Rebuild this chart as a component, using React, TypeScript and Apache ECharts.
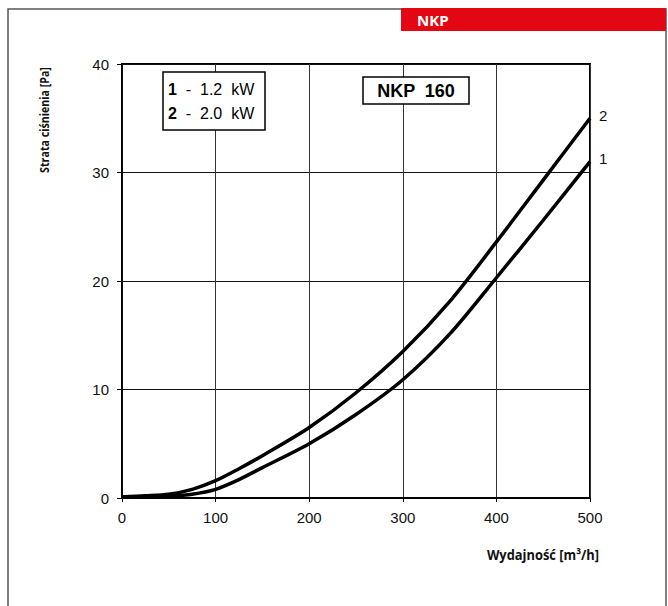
import React, { useEffect, useRef } from "react";
import * as echarts from "echarts";

const flowTicks = [0, 100, 200, 300, 400, 500];
const flow = [0, 25, 50, 75, 100, 125, 150, 200, 250, 300, 350, 400, 450, 500];
const loss1 = [0.1, 0.12, 0.18, 0.35, 0.8, 1.7, 2.8, 5.0, 7.7, 10.9, 15.1, 20.3, 25.6, 31.0];
const loss2 = [0.1, 0.2, 0.35, 0.8, 1.6, 2.7, 3.9, 6.5, 9.7, 13.5, 18.1, 23.6, 29.3, 35.0];
const seriesNames = ["1", "2"];
const legendLines = ["1.2  kW", "2.0  kW"];
const title = "NKP  160";
const header = "NKP";
const yName = "Strata ciśnienia [Pa]";
const xName = "Wydajność [m³/h]";

export default function App() {
  const ref = useRef<HTMLDivElement>(null);
  useEffect(() => {
    if (!ref.current) return;
    const chart = echarts.init(ref.current, undefined, { renderer: "svg" });
    const tickFont = "Liberation Sans, Arial, sans-serif";
    const mk = (name: string, ys: number[]) => ({
      type: "line",
      name,
      data: flow.map((x, i) => [x, ys[i]]),
      smooth: 0.3,
      showSymbol: false,
      symbol: "none",
      lineStyle: { color: "#000", width: 3.5 },
      endLabel: {
        show: true,
        formatter: () => name,
        color: "#111",
        fontSize: 15,
        fontFamily: tickFont,
        offset: [1, -3],
      },
      z: 5,
    });
    const legendText = (i: number, y: number) => ({
      type: "text",
      x: 168,
      y,
      style: {
        text: `{b|${seriesNames[i]}}{n|  -  ${legendLines[i]}}`,
        verticalAlign: "middle",
        rich: {
          b: { fontFamily: tickFont, fontSize: 16, fontWeight: "bold", fill: "#000", color: "#000" },
          n: { fontFamily: tickFont, fontSize: 16, fill: "#000", color: "#000" },
        },
      },
      z: 11,
    });
    chart.setOption({
      animation: false,
      backgroundColor: "#fff",
      grid: {
        left: 122,
        right: 78,
        top: 64,
        bottom: 108,
        show: true,
        borderColor: "#000",
        borderWidth: 2,
        backgroundColor: "transparent",
      },
      xAxis: {
        type: "value",
        min: 0,
        max: 500,
        interval: 100,
        axisLine: { show: true, lineStyle: { color: "#000", width: 1.5 } },
        axisTick: { show: true, length: 4, lineStyle: { color: "#000" } },
        axisLabel: {
          color: "#111",
          fontSize: 15,
          fontFamily: tickFont,
          margin: 12,
          customValues: flowTicks,
        },
        splitLine: { show: true, lineStyle: { color: "#333", width: 1 } },
      },
      yAxis: {
        type: "value",
        min: 0,
        max: 40,
        interval: 10,
        axisLine: { show: true, lineStyle: { color: "#000", width: 1.5 } },
        axisTick: { show: true, length: 5, lineStyle: { color: "#000" } },
        axisLabel: { color: "#111", fontSize: 15, fontFamily: tickFont, margin: 13 },
        splitLine: { show: true, lineStyle: { color: "#111", width: 1 } },
      },
      series: [mk(seriesNames[0], loss1), mk(seriesNames[1], loss2)],
      graphic: [
        {
          type: "rect",
          shape: { x: 8, y: 9, width: 658, height: 620 },
          style: { fill: "none", stroke: "#555", lineWidth: 1.5 },
          z: 0,
        },
        {
          type: "rect",
          shape: { x: 401, y: 8, width: 265, height: 23 },
          style: { fill: "#e30613" },
          z: 10,
        },
        {
          type: "text",
          x: 417,
          y: 20,
          style: {
            text: header,
            fill: "#fff",
            font: "bold 15px Open Sans, sans-serif",
            verticalAlign: "middle",
          },
          z: 11,
        },
        {
          type: "rect",
          shape: { x: 163, y: 72, width: 102, height: 58 },
          style: { fill: "#fff", stroke: "#000", lineWidth: 1.5 },
          z: 10,
        },
        legendText(0, 89),
        legendText(1, 113),
        {
          type: "rect",
          shape: { x: 363, y: 77, width: 106, height: 27 },
          style: { fill: "#fff", stroke: "#000", lineWidth: 1.5 },
          z: 10,
        },
        {
          type: "text",
          x: 416,
          y: 91,
          style: {
            text: title,
            align: "center",
            verticalAlign: "middle",
            font: "bold 18px Liberation Sans, Arial, sans-serif",
            fill: "#000",
          },
          z: 11,
        },
        {
          type: "text",
          x: 44,
          y: 120,
          rotation: Math.PI / 2,
          scaleX: 0.82,
          style: {
            text: yName,
            align: "center",
            verticalAlign: "middle",
            font: "bold 13px Open Sans, sans-serif",
            fill: "#111",
          },
          z: 11,
        },
        {
          type: "text",
          x: 543,
          y: 555,
          scaleX: 0.92,
          style: {
            text: xName,
            align: "center",
            verticalAlign: "middle",
            font: "bold 14px Open Sans, sans-serif",
            fill: "#111",
          },
          z: 11,
        },
      ],
    });
    return () => chart.dispose();
  }, []);
  return (
    <div
      ref={ref}
      style={{ position: "fixed", left: 0, top: 0, width: 668, height: 606, background: "#fff" }}
    />
  );
}
